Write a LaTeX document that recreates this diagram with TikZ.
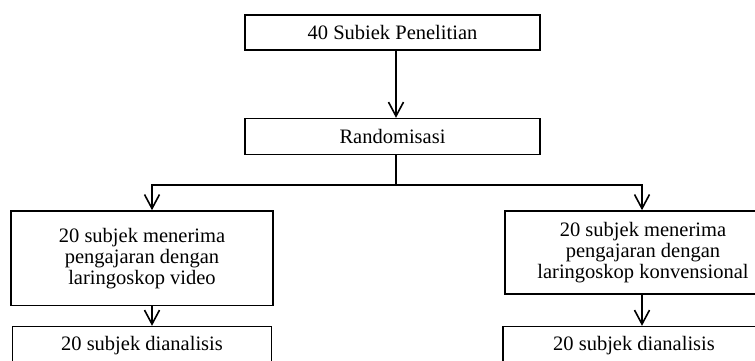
\documentclass[tikz,border=0pt]{standalone}
\usepackage{fontspec}
\setmainfont{Liberation Serif}
\usepackage{tikz}
\usetikzlibrary{arrows.meta,positioning}

\begin{document}
\begin{tikzpicture}[
		x=1pt, y=1pt,
		line width=1.6pt,
		>={Straight Barb[length=14pt,width=15pt]},
		font=\fontsize{20.5}{21}\selectfont,
		box/.style={draw, align=center, inner sep=0pt},
		link/.style={->}
		]
		
		% Frame of the picture
		\clip (0,0) rectangle (755,361);
		
		% Row 1: Subjects and randomisation
		\node[box, minimum width=295pt, minimum height=35pt] (subjek) at (392.5,328.5) {40 Subiek Penelitian};
		\node[box, minimum width=295pt, minimum height=36pt, below=67pt of subjek] (random) {Randomisasi};
		
		% Row 2: Two teaching groups
		\node[box, minimum width=262pt, minimum height=94.5pt] (video) at (142,102.75) {20 subjek menerima\\pengajaran dengan\\laringoskop video};
		\node[box, minimum width=276pt, minimum height=83pt] (konv) at (643,108.5) {20 subjek menerima\\pengajaran dengan\\laringoskop konvensional};
		
		% Row 3: Analysis
		\node[box, minimum width=259pt, minimum height=38pt, below=19.5pt of video] (analisisA) {20 subjek dianalisis};
		\node[box, minimum width=280pt, minimum height=38pt, below=31pt of konv] (analisisB) {20 subjek dianalisis\hspace*{18pt}};
		
		% Branch points
		\coordinate (split) at (396,176);
		\coordinate (splitA) at (152,176);
		\coordinate (splitB) at (642,176);
		
		% --- Connectors ---
		\draw[link] (subjek.south -| split) -- (random.north -| split);
		\draw (random.south -| split) -- (split);
		\draw[link] (split) -- (splitA) -- (video.north -| splitA);
		\draw[link] (split) -- (splitB) -- (konv.north -| splitB);
		\draw[link] (video.south -| splitA) -- (analisisA.north -| splitA);
		\draw[link] (konv.south -| splitB) -- (analisisB.north -| splitB);
		
	\end{tikzpicture}
\end{document}
